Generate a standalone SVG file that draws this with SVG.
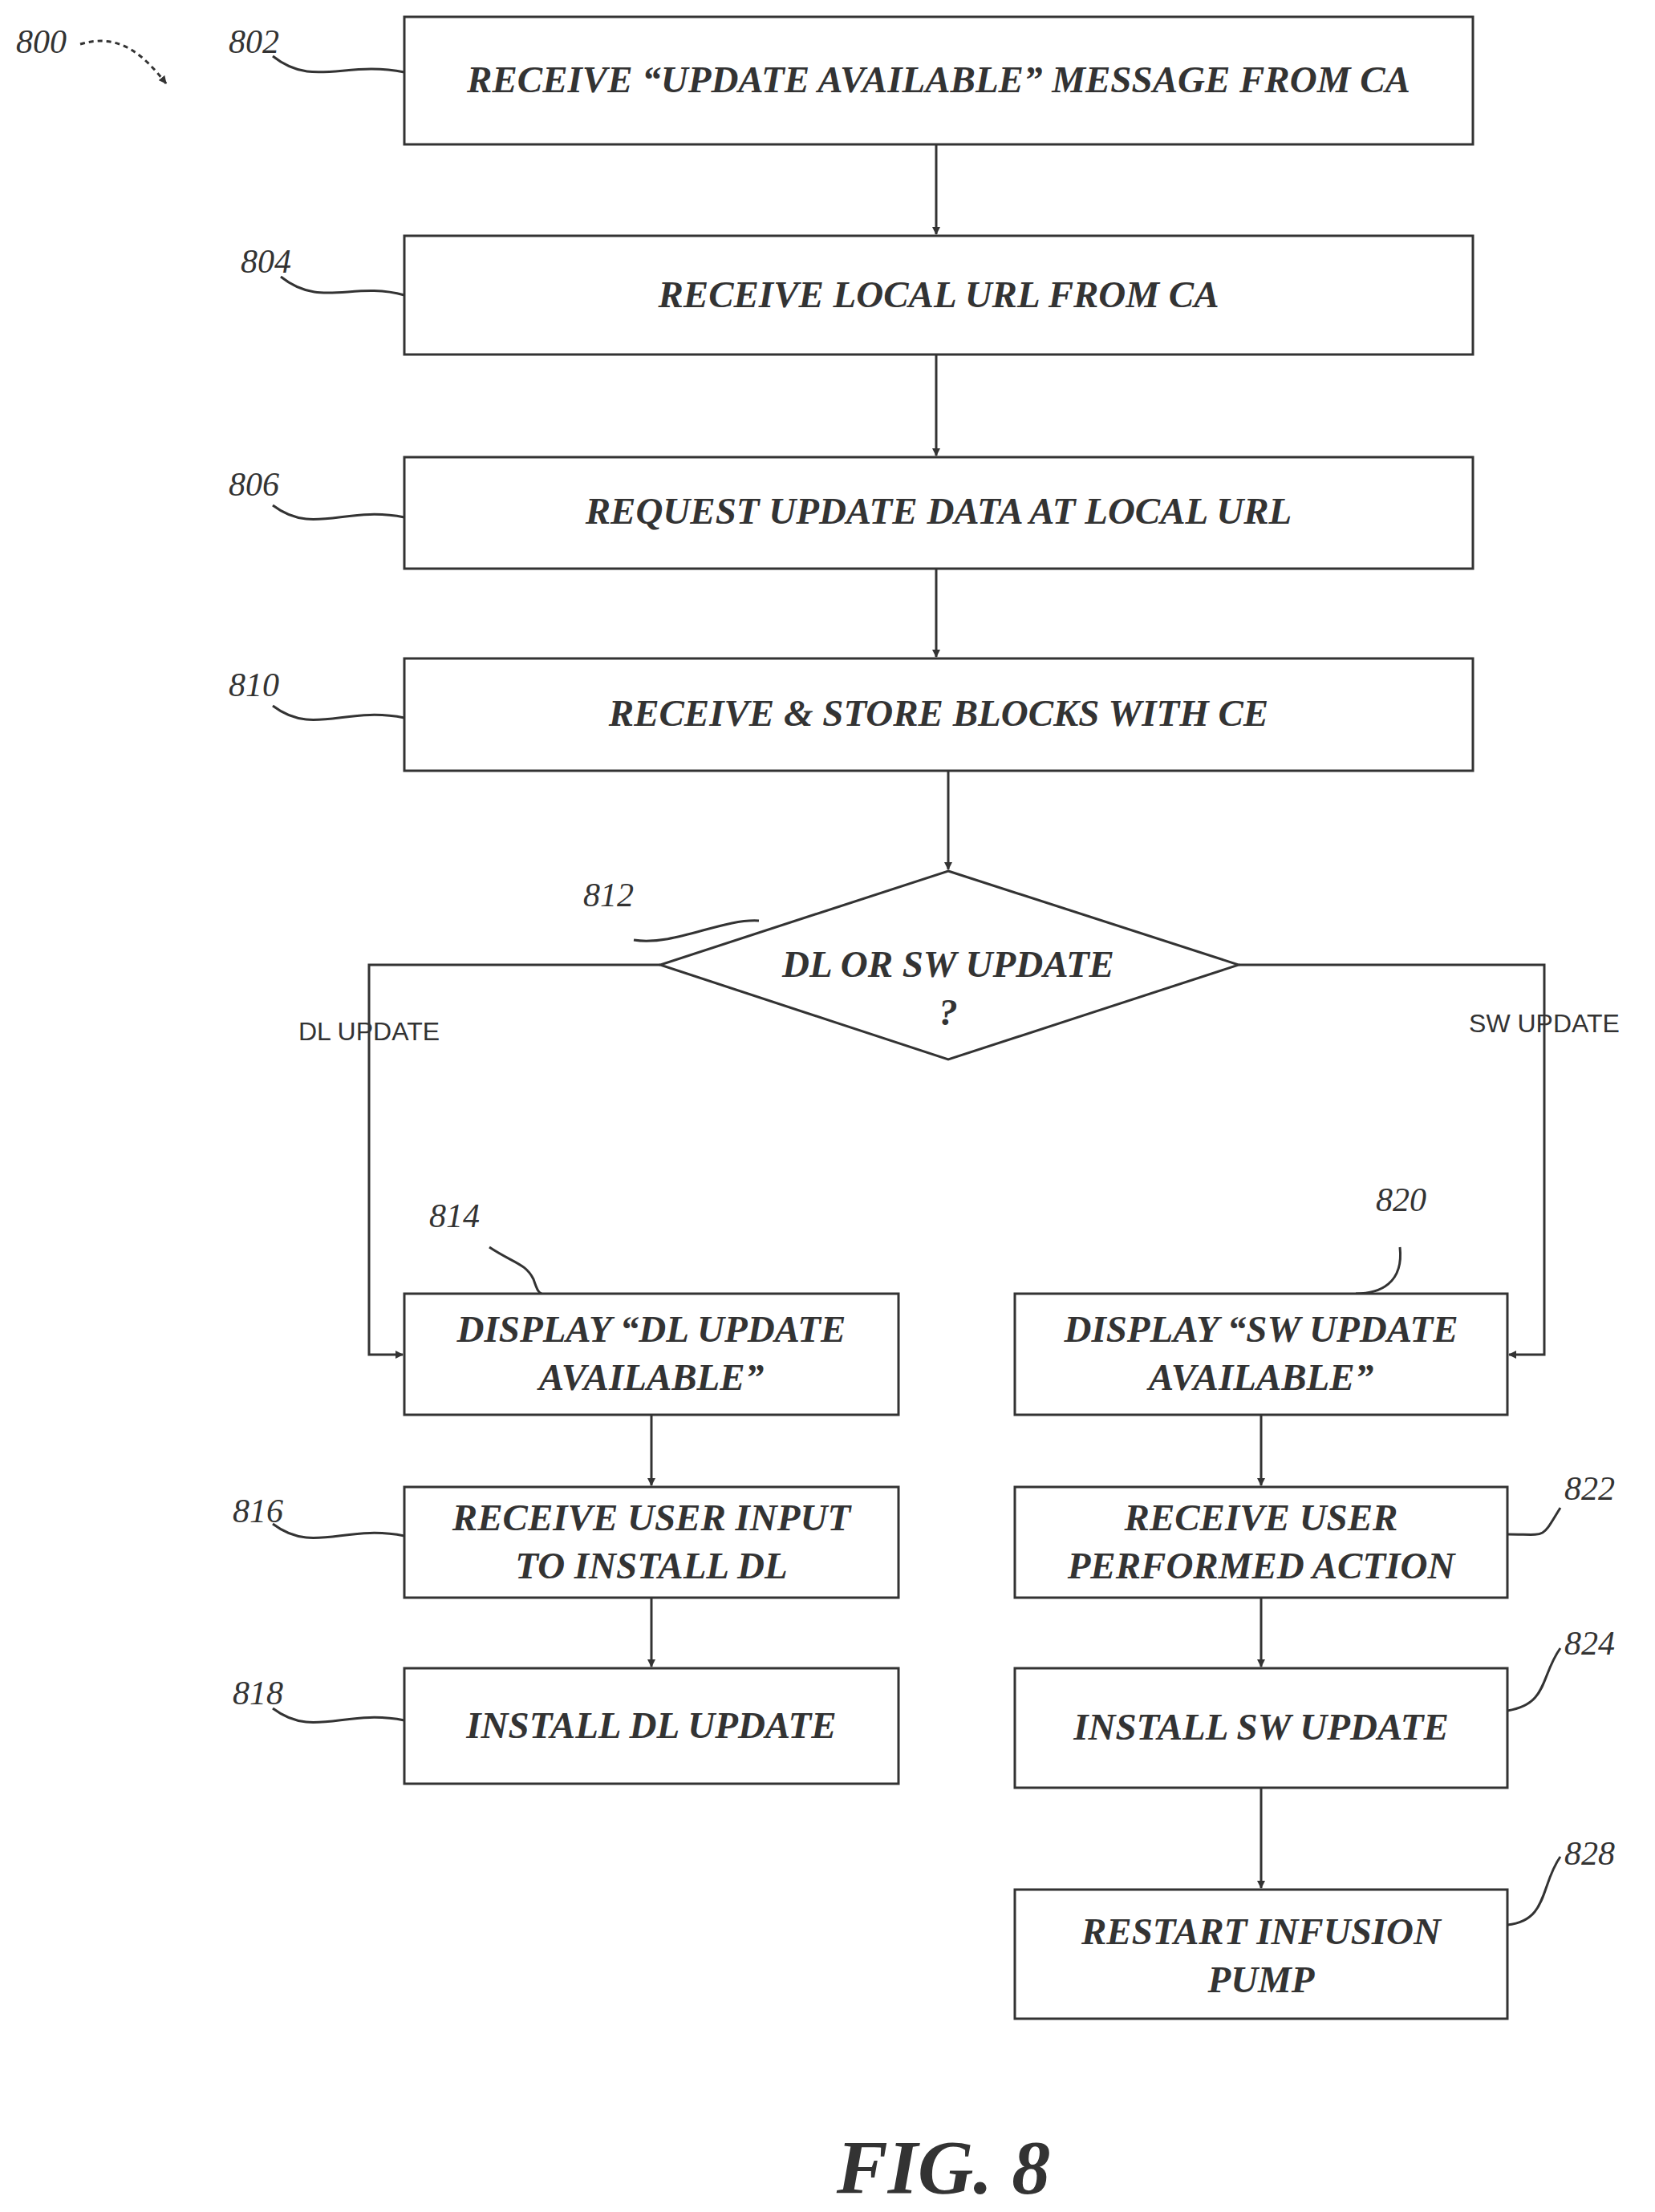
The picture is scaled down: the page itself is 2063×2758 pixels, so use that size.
<svg xmlns="http://www.w3.org/2000/svg" width="2063" height="2758" viewBox="0 0 2063 2758">
<style>
.b{fill:#fff;stroke:#333;stroke-width:3}
.t{font-family:"Liberation Serif",serif;font-style:italic;font-weight:bold;font-size:47px;fill:#333;text-anchor:middle}
.n{font-family:"Liberation Serif",serif;font-style:italic;font-size:42px;fill:#333}
.s{font-family:"Liberation Sans",sans-serif;font-size:32px;fill:#333;text-anchor:middle}
.c{fill:none;stroke:#333;stroke-width:3}
</style>
<defs><marker id="a" markerWidth="10" markerHeight="10" refX="9" refY="5" orient="auto" markerUnits="userSpaceOnUse" viewBox="0 0 10 10"><path d="M0,0L10,5L0,10z" fill="#333"/></marker></defs>
<rect width="2063" height="2758" fill="#fff"/>
<g id="connectors">
<path class="c" marker-end="url(#a)" d="M1167,180V292"/>
<path class="c" marker-end="url(#a)" d="M1167,442V568"/>
<path class="c" marker-end="url(#a)" d="M1167,709V819"/>
<path class="c" marker-end="url(#a)" d="M1182,961V1084"/>
<path class="c" marker-end="url(#a)" d="M823,1203H460V1689H502"/>
<path class="c" marker-end="url(#a)" d="M1544,1203H1925V1689H1881"/>
<path class="c" marker-end="url(#a)" d="M812,1764V1852"/>
<path class="c" marker-end="url(#a)" d="M812,1992V2078"/>
<path class="c" marker-end="url(#a)" d="M1572,1764V1852"/>
<path class="c" marker-end="url(#a)" d="M1572,1992V2078"/>
<path class="c" marker-end="url(#a)" d="M1572,2229V2354"/>
<text class="s" x="460" y="1297">DL UPDATE</text>
<text class="s" x="1925" y="1287">SW UPDATE</text>
<path class="c" stroke-dasharray="6,5" marker-end="url(#a)" d="M100,55C150,40 180,70 207,104"/>
<path class="c" d="M340,70C390,110 430,75 504,90"/>
<path class="c" d="M350,345C400,385 440,350 504,368"/>
<path class="c" d="M340,630C390,668 430,630 504,645"/>
<path class="c" d="M340,880C390,918 430,880 504,895"/>
<path class="c" d="M790,1172C840,1180 900,1145 946,1148"/>
<path class="c" d="M610,1555C640,1575 655,1575 665,1595C670,1610 672,1612 675,1613"/>
<path class="c" d="M1745,1555C1750,1600 1720,1613 1690,1613"/>
<path class="c" d="M340,1900C390,1938 430,1900 504,1915"/>
<path class="c" d="M340,2130C390,2168 430,2130 504,2145"/>
<path class="c" d="M1945,1880C1920,1920 1930,1913 1879,1913"/>
<path class="c" d="M1945,2055C1920,2090 1930,2125 1879,2133"/>
<path class="c" d="M1945,2315C1920,2350 1930,2395 1879,2400"/>
</g>
<text class="n" x="20" y="66">800</text>
<g id="n802"><rect class="b" x="504" y="21" width="1332" height="159"/><text class="t" x="1170" y="115">RECEIVE “UPDATE AVAILABLE” MESSAGE FROM CA</text><text class="n" x="285" y="66">802</text></g>
<g id="n804"><rect class="b" x="504" y="294" width="1332" height="148"/><text class="t" x="1170" y="383">RECEIVE LOCAL URL FROM CA</text><text class="n" x="300" y="340">804</text></g>
<g id="n806"><rect class="b" x="504" y="570" width="1332" height="139"/><text class="t" x="1170" y="653">REQUEST UPDATE DATA AT LOCAL URL</text><text class="n" x="285" y="618">806</text></g>
<g id="n810"><rect class="b" x="504" y="821" width="1332" height="140"/><text class="t" x="1170" y="905">RECEIVE &amp; STORE BLOCKS WITH CE</text><text class="n" x="285" y="868">810</text></g>
<g id="n812"><path class="b" d="M1182,1086L1544,1203L1182,1321L823,1203Z"/><text class="t" x="1182" y="1218">DL OR SW UPDATE</text><text class="t" x="1182" y="1278">?</text><text class="n" x="727" y="1130">812</text></g>
<g id="n814"><rect class="b" x="504" y="1613" width="616" height="151"/><text class="t" x="812" y="1673">DISPLAY “DL UPDATE</text><text class="t" x="812" y="1733">AVAILABLE”</text><text class="n" x="535" y="1530">814</text></g>
<g id="n816"><rect class="b" x="504" y="1854" width="616" height="138"/><text class="t" x="812" y="1908">RECEIVE USER INPUT</text><text class="t" x="812" y="1968">TO INSTALL DL</text><text class="n" x="290" y="1898">816</text></g>
<g id="n818"><rect class="b" x="504" y="2080" width="616" height="144"/><text class="t" x="812" y="2167">INSTALL DL UPDATE</text><text class="n" x="290" y="2125">818</text></g>
<g id="n820"><rect class="b" x="1265" y="1613" width="614" height="151"/><text class="t" x="1572" y="1673">DISPLAY “SW UPDATE</text><text class="t" x="1572" y="1733">AVAILABLE”</text><text class="n" x="1715" y="1510">820</text></g>
<g id="n822"><rect class="b" x="1265" y="1854" width="614" height="138"/><text class="t" x="1572" y="1908">RECEIVE USER</text><text class="t" x="1572" y="1968">PERFORMED ACTION</text><text class="n" x="1950" y="1870">822</text></g>
<g id="n824"><rect class="b" x="1265" y="2080" width="614" height="149"/><text class="t" x="1572" y="2169">INSTALL SW UPDATE</text><text class="n" x="1950" y="2063">824</text></g>
<g id="n828"><rect class="b" x="1265" y="2356" width="614" height="161"/><text class="t" x="1572" y="2424">RESTART INFUSION</text><text class="t" x="1572" y="2484">PUMP</text><text class="n" x="1950" y="2325">828</text></g>
<text x="1176" y="2735" font-family="Liberation Serif,serif" font-style="italic" font-weight="bold" font-size="96" fill="#333" text-anchor="middle">FIG. 8</text>
</svg>
